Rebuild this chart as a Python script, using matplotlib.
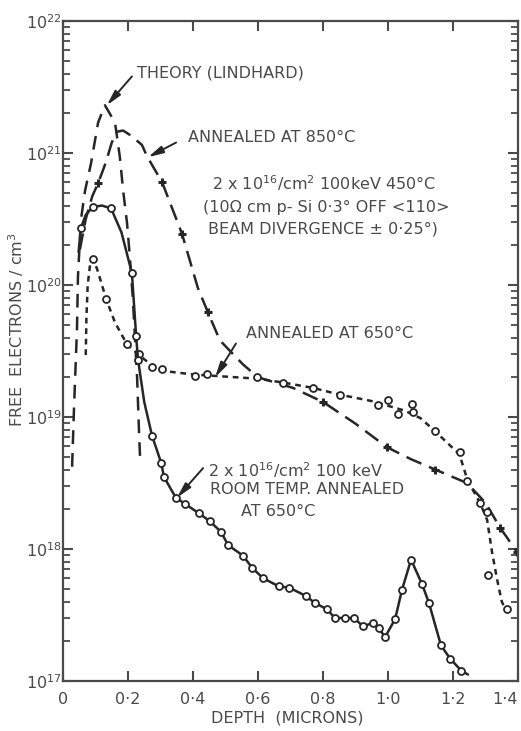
import numpy as np
import matplotlib.pyplot as plt
from matplotlib.ticker import FixedLocator, LogLocator, NullFormatter

W, H = 521, 731
INK = '#262626'
GREY = '#4a4a4a'

# theory curve (Lindhard)
theory_x = [0.028, 0.034, 0.043, 0.046, 0.055, 0.068, 0.086, 0.108, 0.129,
            0.160, 0.175, 0.185, 0.197, 0.206, 0.215, 0.228, 0.234, 0.237]
theory_y = [4.2e18, 1.2e19, 4.6e19, 1.15e20, 3.1e20, 5.2e20, 8.3e20, 1.7e21, 2.3e21,
            1.7e21, 9.3e20, 5.2e20, 2.95e20, 1.6e20, 7.8e19, 2.0e19, 7.6e18, 5.0e18]

# annealed at 850 C
a850_x = [0.052, 0.070, 0.090, 0.108, 0.132, 0.150, 0.166, 0.185, 0.210, 0.243,
          0.258, 0.305, 0.366, 0.415, 0.446, 0.483, 0.554, 0.600, 0.708, 0.800,
          0.900, 0.997, 1.070, 1.145, 1.243, 1.300, 1.345, 1.397]
a850_y = [1.86e20, 3.16e20, 4.7e20, 5.9e20, 8.5e20, 1.2e21, 1.45e21, 1.48e21, 1.35e21, 1.15e21,
          9.5e20, 6.0e20, 2.45e20, 9.5e19, 6.2e19, 3.8e19, 2.5e19, 2.0e19, 1.66e19, 1.3e19,
          8.9e18, 5.9e18, 4.8e18, 4.0e18, 3.16e18, 2.24e18, 1.45e18, 9.5e17]
a850_pts_x = [0.108, 0.305, 0.366, 0.446, 0.800, 0.997, 1.145, 1.345, 1.397]
a850_pts_y = [5.9e20, 6.0e20, 2.45e20, 6.2e19, 1.3e19, 5.9e18, 4.0e18, 1.45e18, 9.5e17]

# annealed at 650 C
a650_x = [0.070, 0.072, 0.076, 0.083, 0.092, 0.105, 0.120, 0.132, 0.160, 0.197,
          0.234, 0.274, 0.305, 0.400, 0.600, 0.680, 0.770, 0.850, 0.950, 1.050,
          1.100, 1.145, 1.220, 1.245, 1.283, 1.305, 1.320, 1.335, 1.350, 1.366]
a650_y = [2.95e19, 5.6e19, 1.0e20, 1.41e20, 1.58e20, 1.32e20, 1.0e20, 7.9e19, 5.2e19, 3.55e19,
          2.95e19, 2.45e19, 2.24e19, 2.1e19, 1.95e19, 1.82e19, 1.66e19, 1.48e19, 1.32e19, 1.12e19,
          9.8e18, 7.8e18, 5.2e18, 3.3e18, 2.24e18, 1.66e18, 9.5e17, 6.0e17, 4.0e17, 3.3e17]
a650_pts_x = [0.092, 0.132, 0.197, 0.234, 0.274, 0.305, 0.406, 0.443, 0.597, 0.677,
              0.770, 0.852, 0.969, 1.000, 1.030, 1.074, 1.077, 1.145, 1.222, 1.243,
              1.283, 1.305, 1.308, 1.366]
a650_pts_y = [1.58e20, 7.9e19, 3.55e19, 3.0e19, 2.4e19, 2.3e19, 2.05e19, 2.1e19, 2.0e19, 1.82e19,
              1.66e19, 1.48e19, 1.23e19, 1.35e19, 1.05e19, 1.26e19, 1.1e19, 7.8e18, 5.4e18, 3.3e18,
              2.24e18, 1.9e18, 6.3e17, 3.5e17]

# room temperature implant, annealed at 650 C
room_x = [0.048, 0.055, 0.070, 0.092, 0.120, 0.148, 0.180, 0.212, 0.225, 0.231,
          0.250, 0.274, 0.302, 0.311, 0.347, 0.375, 0.419, 0.452, 0.486, 0.508,
          0.554, 0.582, 0.616, 0.665, 0.696, 0.748, 0.775, 0.812, 0.837, 0.868,
          0.895, 0.923, 0.954, 0.972, 0.991, 1.022, 1.043, 1.071, 1.105, 1.126,
          1.163, 1.191, 1.225, 1.246]
room_y = [1.78e20, 2.7e20, 3.4e20, 3.9e20, 4.0e20, 3.8e20, 2.5e20, 1.23e20, 4.1e19, 2.7e19,
          1.3e19, 7.2e18, 4.5e18, 3.5e18, 2.45e18, 2.2e18, 1.86e18, 1.62e18, 1.35e18, 1.07e18,
          8.9e17, 7.2e17, 6.0e17, 5.2e17, 5.1e17, 4.4e17, 3.9e17, 3.5e17, 3.0e17, 3.0e17,
          3.0e17, 2.6e17, 2.75e17, 2.5e17, 2.15e17, 2.95e17, 4.9e17, 8.3e17, 5.4e17, 3.9e17,
          1.86e17, 1.48e17, 1.2e17, 1.12e17]
room_pts_x = [0.055, 0.092, 0.148, 0.212, 0.225, 0.231, 0.274, 0.302, 0.311, 0.347,
              0.375, 0.419, 0.452, 0.486, 0.508, 0.554, 0.582, 0.616, 0.665, 0.696,
              0.748, 0.775, 0.812, 0.837, 0.868, 0.895, 0.923, 0.954, 0.972, 0.991,
              1.022, 1.043, 1.071, 1.105, 1.126, 1.163, 1.191, 1.225]
room_pts_y = [2.7e20, 3.9e20, 3.8e20, 1.23e20, 4.1e19, 2.7e19, 7.2e18, 4.5e18, 3.5e18, 2.45e18,
              2.2e18, 1.86e18, 1.62e18, 1.35e18, 1.07e18, 8.9e17, 7.2e17, 6.0e17, 5.2e17, 5.1e17,
              4.4e17, 3.9e17, 3.5e17, 3.0e17, 3.0e17, 3.0e17, 2.6e17, 2.75e17, 2.5e17, 2.15e17,
              2.95e17, 4.9e17, 8.3e17, 5.4e17, 3.9e17, 1.86e17, 1.48e17, 1.2e17]

x_ticks = [0, 0.2, 0.4, 0.6, 0.8, 1.0, 1.2, 1.4]
x_labels = ['0', '0·2', '0·4', '0·6', '0·8', '1·0', '1·2', '1·4']
y_ticks = [1e17, 1e18, 1e19, 1e20, 1e21, 1e22]
y_labels = [r'$\mathregular{10^{%d}}$' % e for e in range(17, 23)]

plt.rcParams['font.family'] = 'DejaVu Sans'
plt.rcParams['mathtext.fontset'] = 'dejavusans'

fig = plt.figure(figsize=(W / 100, H / 100), dpi=100)
ax = fig.add_axes([63 / W, 50 / H, 455 / W, 660 / H])

lw = 1.8
ax.plot(theory_x, theory_y, color=INK, lw=lw, dashes=(5.5, 3.6))
ax.plot(a850_x, a850_y, color=INK, lw=lw, dashes=(6.5, 3.3))
ax.plot(a850_pts_x, a850_pts_y, ls='none', marker='+', ms=6, mew=2.2, color=INK)
ax.plot(a650_x, a650_y, color=INK, lw=lw, dashes=(2.3, 1.9))
ax.plot(a650_pts_x, a650_pts_y, ls='none', marker='o', ms=5, mew=1.3,
        mfc='white', mec=INK)
ax.plot(room_x, room_y, color=INK, lw=lw, solid_capstyle='round')
ax.plot(room_pts_x, room_pts_y, ls='none', marker='o', ms=5, mew=1.3,
        mfc='white', mec=INK)

ax.set_xlim(0, 1.4)
ax.set_yscale('log')
ax.set_ylim(1e17, 1e22)

ax.xaxis.set_major_locator(FixedLocator(x_ticks))
ax.set_xticklabels(x_labels)
ax.yaxis.set_major_locator(FixedLocator(y_ticks))
ax.set_yticklabels(y_labels)
ax.yaxis.set_minor_locator(LogLocator(base=10, subs=np.arange(2, 10)))
ax.yaxis.set_minor_formatter(NullFormatter())

ax.tick_params(axis='both', which='both', direction='in', colors=GREY,
               top=True, right=True, labelcolor=GREY)
ax.tick_params(axis='x', which='major', length=7, width=1.5, pad=8, labelsize=11.5)
ax.tick_params(axis='y', which='major', length=7, width=1.5, pad=1, labelsize=11.5)
ax.tick_params(axis='y', which='minor', length=5, width=1.3)
# last depth label sits against the right edge
last = ax.get_xticklabels()[-1]
last.set_horizontalalignment('right')
last.set_x(1.4 + 0.008)
for s in ax.spines.values():
    s.set_color(GREY)
    s.set_linewidth(1.6)


def fpos(px, py):
    return px / W, 1 - py / H


txt = dict(color=GREY, fontsize=11.5, va='center', ha='left')
fig.text(*fpos(137, 73), 'THEORY (LINDHARD)', **txt)
fig.text(*fpos(188, 138), 'ANNEALED AT 850°C', **txt)
fig.text(*fpos(212, 183), r'2 x 10$^{16}$/cm$^{2}$ 100keV 450°C', **txt)
fig.text(*fpos(203, 207), '(10Ω cm p- Si 0·3° OFF <110>', **txt)
fig.text(*fpos(208, 229), 'BEAM DIVERGENCE ± 0·25°)', **txt)
fig.text(*fpos(246, 333), 'ANNEALED AT 650°C', **txt)
fig.text(*fpos(208, 470), r'2 x 10$^{16}$/cm$^{2}$ 100 keV', **txt)
fig.text(*fpos(210, 490), 'ROOM TEMP. ANNEALED', **txt)
fig.text(*fpos(241, 512), 'AT 650°C', **txt)

fig.text(*fpos(16, 330), r'FREE  ELECTRONS / cm$^{3}$', color=GREY, fontsize=11.5,
         rotation=90, ha='center', va='center')
fig.text(*fpos(287, 718), 'DEPTH  (MICRONS)', color=GREY, fontsize=11.5,
         ha='center', va='center')

arrow = dict(arrowstyle='-|>,head_length=0.9,head_width=0.22', color=INK,
             lw=1.4, shrinkA=0, shrinkB=0)
ax.annotate('', xy=(0.135, 2.3e21), xytext=(0.212, 3.8e21), arrowprops=arrow)
ax.annotate('', xy=(0.262, 9.3e20), xytext=(0.348, 1.2e21), arrowprops=arrow)
ax.annotate('', xy=(0.468, 2.0e19), xytext=(0.532, 3.6e19), arrowprops=arrow)
ax.annotate('', xy=(0.351, 2.45e18), xytext=(0.431, 4.1e18), arrowprops=arrow)

fig.savefig('out.png', dpi=100)
